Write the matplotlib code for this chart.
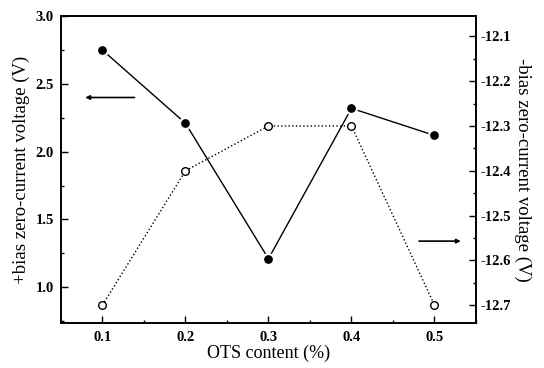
import numpy as np
import matplotlib
matplotlib.use('Agg')
import matplotlib.pyplot as plt
from matplotlib.ticker import MultipleLocator

plt.rcParams['font.family'] = ['Liberation Serif', 'DejaVu Serif']

# data
ots = [0.1, 0.2, 0.3, 0.4, 0.5]
pos_bias = [2.75, 2.21, 1.21, 2.32, 2.12]
neg_bias = [-12.70, -12.40, -12.30, -12.30, -12.70]

fig = plt.figure(figsize=(5.44, 3.68), dpi=100)
ax = fig.add_axes([0.112, 0.122, 0.763, 0.834])
ax2 = ax.twinx()

ax.plot(ots, pos_bias, '-', color='black', lw=1.0, marker='o', ms=7.8,
        mfc='black', mec='white', mew=1.5, zorder=3)
ax2.plot(ots, neg_bias, ':', color='black', lw=1.0, marker='o', ms=5.5,
         mfc='white', mec='black', mew=1.0, zorder=3)

ax.set_xlim(0.05, 0.55)
ax.set_ylim(0.735, 3.0)
ax2.set_ylim(-12.74, -12.055)

ax.xaxis.set_minor_locator(MultipleLocator(0.05))
ax.yaxis.set_minor_locator(MultipleLocator(0.25))
ax2.yaxis.set_minor_locator(MultipleLocator(0.05))

ax.set_xticks(ots)
ax.set_xticklabels(['%.1f' % v for v in ots])
ax.set_yticks([1.0, 1.5, 2.0, 2.5, 3.0])
ax.set_yticklabels(['1.0', '1.5', '2.0', '2.5', '3.0'])
ax2.set_yticks([-12.7, -12.6, -12.5, -12.4, -12.3, -12.2, -12.1])
ax2.set_yticklabels(['-12.7', '-12.6', '-12.5', '-12.4', '-12.3', '-12.2', '-12.1'])

for a in (ax, ax2):
    a.tick_params(which='both', direction='in', labelsize=10.5, width=1.0)
    a.tick_params(which='major', length=5)
    a.tick_params(which='minor', length=2.5)
    for lab in a.get_xticklabels() + a.get_yticklabels():
        lab.set_fontweight('bold')
    for s in a.spines.values():
        s.set_linewidth(1.2)
ax.tick_params(axis='x', pad=6)
ax.tick_params(axis='y', pad=5)
ax2.tick_params(axis='y', pad=3)

ax.set_xlabel('OTS content (%)', fontsize=13, labelpad=0)
ax.set_ylabel('+bias zero-current voltage (V)', fontsize=13.5, labelpad=4)
ax2.set_ylabel('-bias zero-current voltage (V)', fontsize=13.5, rotation=270, labelpad=15)

# arrows pointing to the axis each curve belongs to
ax.annotate('', xy=(0.076, 2.40), xytext=(0.142, 2.40),
            arrowprops=dict(arrowstyle='-|>', color='black', lw=1.2, mutation_scale=6))
ax2.annotate('', xy=(0.535, -12.557), xytext=(0.478, -12.557),
             arrowprops=dict(arrowstyle='-|>', color='black', lw=1.2, mutation_scale=6))

plt.savefig('out.png', dpi=100)
